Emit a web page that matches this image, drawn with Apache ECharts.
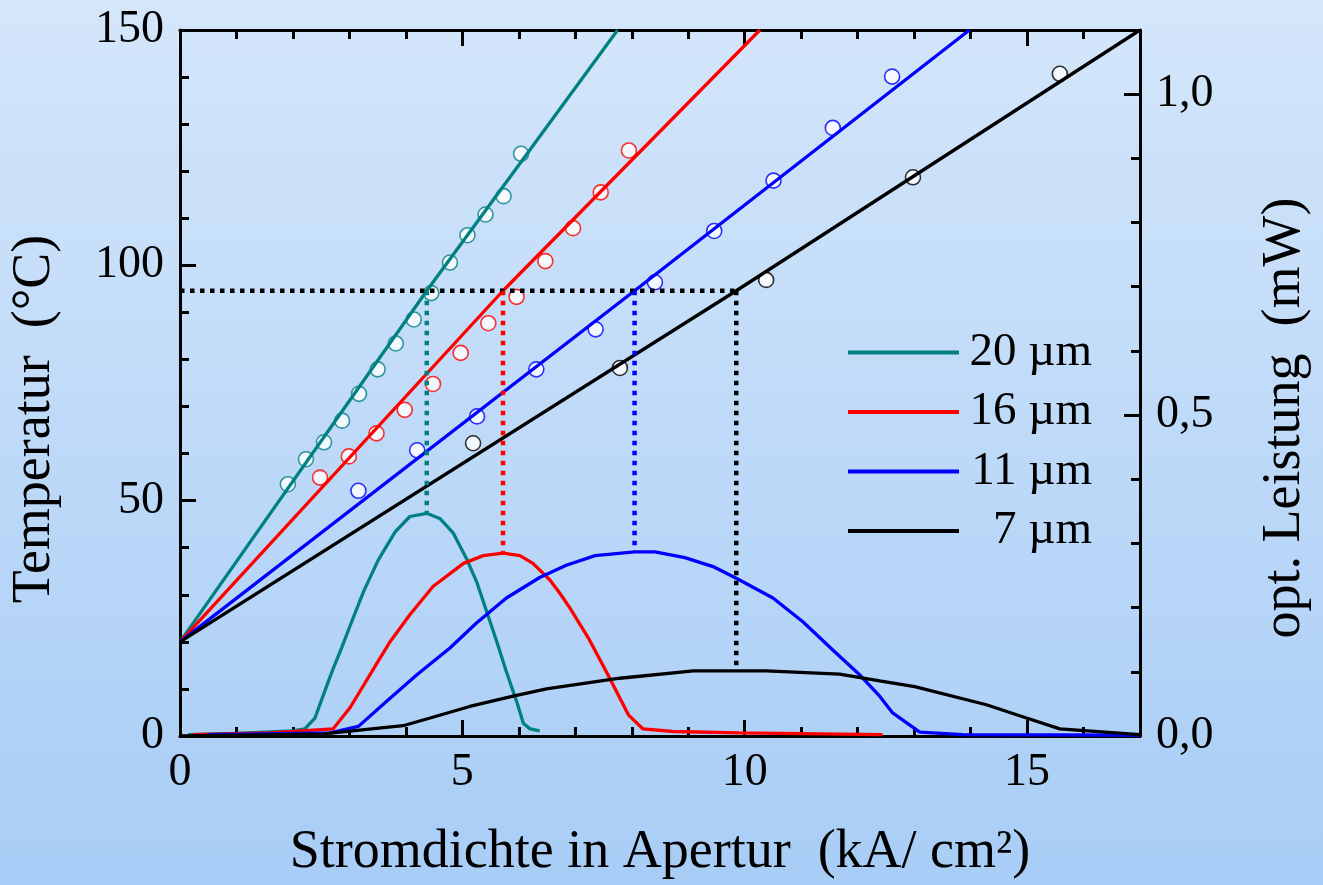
<!DOCTYPE html>
<html>
<head>
<meta charset="utf-8">
<script src="https://cdn.jsdelivr.net/npm/echarts@6/dist/echarts.min.js"></script>
<style>
html,body{margin:0;padding:0;}
#c{width:1323px;height:885px;}
</style>
</head>
<body>
<div id="c"></div>
<script>
// ---------- data ----------
const names = ['20 µm', '16 µm', '11 µm', '7 µm'];
const colors = ['#008080', '#ff0000', '#0000ff', '#000000'];

// fitted temperature lines (x: kA/cm², y: °C)
const fit20 = [[0,20],[4.37,94.6],[7.75,150]];
const fit16 = [[0,20],[5.72,94.6],[10.27,150]];
const fit11 = [[0,20],[8.05,94.6],[13.98,150]];
const fit7  = [[0,20],[9.85,94.6],[17,150]];

// measured temperatures
const temp20 = [[1.91,53.5],[2.23,58.8],[2.55,62.4],[2.87,67.0],[3.17,72.7],[3.50,77.9],[3.82,83.4],[4.14,88.5],[4.45,94.1],[4.78,100.6],[5.09,106.4],[5.41,110.8],[5.73,114.7],[6.04,123.7]];
const temp16 = [[2.48,54.9],[2.99,59.4],[3.48,64.3],[3.98,69.3],[4.48,74.8],[4.97,81.4],[5.46,87.7],[5.96,93.3],[6.47,100.9],[6.96,107.9],[7.45,115.5],[7.95,124.4]];
const temp11 = [[3.16,52.1],[4.20,60.7],[5.26,67.9],[6.31,77.9],[7.36,86.4],[8.41,96.4],[9.46,107.3],[10.51,118.0],[11.56,129.2],[12.61,140.1]];
const temp7  = [[5.19,62.2],[7.79,78.2],[10.38,96.9],[12.98,118.7],[15.58,140.7]];

// optical power (mW)
const pow20 = [[0.15,0.002],[1.0,0.004],[2.0,0.008],[2.21,0.011],[2.39,0.028],[2.54,0.064],[2.69,0.10],[2.86,0.137],[3.04,0.178],[3.25,0.225],[3.51,0.274],[3.81,0.318],[4.07,0.342],[4.37,0.347],[4.60,0.339],[4.84,0.316],[5.07,0.277],[5.25,0.241],[5.43,0.194],[5.61,0.147],[5.78,0.10],[5.96,0.054],[6.08,0.020],[6.20,0.011],[6.37,0.008]];
const pow16 = [[0.23,0.002],[1.59,0.005],[2.71,0.011],[3.01,0.044],[3.36,0.095],[3.72,0.147],[4.07,0.189],[4.48,0.233],[5.02,0.269],[5.37,0.281],[5.72,0.285],[6.02,0.281],[6.25,0.269],[6.55,0.243],[6.73,0.222],[6.90,0.200],[7.23,0.153],[7.58,0.095],[7.94,0.033],[8.20,0.011],[8.73,0.007],[9.91,0.005],[12.44,0.002]];
const pow11 = [[0.5,0.002],[2.66,0.005],[3.16,0.015],[3.66,0.054],[4.19,0.095],[4.78,0.137],[5.25,0.176],[5.78,0.215],[6.37,0.247],[6.84,0.266],[7.35,0.281],[8.05,0.287],[8.41,0.287],[8.94,0.278],[9.44,0.264],[9.91,0.243],[10.50,0.215],[11.03,0.178],[11.56,0.134],[12.04,0.095],[12.39,0.062],[12.62,0.036],[13.10,0.006],[13.86,0.002],[17,0.0015]];
const pow7  = [[0,0.0],[2.5,0.003],[3.95,0.016],[4.43,0.028],[5.13,0.046],[5.90,0.062],[6.49,0.0735],[7.79,0.09],[9.09,0.1016],[10.38,0.1016],[11.68,0.0964],[12.39,0.086],[13.01,0.077],[14.28,0.0487],[14.99,0.028],[15.58,0.011],[17,0.002]];

// reference temperature and operating points
const refTemp = 94.6;
const refCurrent = [4.37, 5.72, 8.05, 9.85];
const refPeak = [0.349, 0.287, 0.290, 0.107];

// axis ranges / ticks
const xMin = 0, xMax = 17, xMajor = 5, xMinor = 1;
const tMin = 0, tMax = 150, tMajor = 50;
const pMin = 0, pMax = 1.1, pMajor = 0.5, pMinor = 0.1;

// ---------- chart ----------
const FONT = '"Liberation Serif", "Times New Roman", serif';
const chart = echarts.init(document.getElementById('c'));
const fits = [fit20, fit16, fit11, fit7];
const temps = [temp20, temp16, temp11, temp7];
const pows = [pow20, pow16, pow11, pow7];
const LW = 3.3;

const series = [];
for (let i = 0; i < 4; i++) {
  series.push({
    name: names[i] + ' Messung', type: 'scatter', data: temps[i], z: 1,
    xAxisIndex: 0, yAxisIndex: 0,
    symbol: 'circle', symbolSize: 15,
    itemStyle: { color: '#ffffff', borderColor: colors[i], borderWidth: 1.6 }
  });
}
for (let i = 0; i < 4; i++) {
  series.push({
    name: names[i], type: 'line', data: fits[i], z: 3,
    xAxisIndex: 0, yAxisIndex: 0, showSymbol: false, symbol: 'none',
    color: colors[i], lineStyle: { color: colors[i], width: LW }
  });
  series.push({
    name: names[i] + ' Leistung', type: 'line', data: pows[i], z: 3,
    xAxisIndex: 0, yAxisIndex: 1, showSymbol: false, symbol: 'none',
    color: colors[i], lineStyle: { color: colors[i], width: LW }
  });
}
// dotted guide lines
series.push({
  name: 'ref', type: 'line', z: 4, xAxisIndex: 0, yAxisIndex: 0,
  data: [[xMin, refTemp], [refCurrent[3], refTemp]], showSymbol: false, symbol: 'none',
  lineStyle: { color: '#000', width: 4.5, type: [4.5, 5.5], cap: 'butt' }
});
for (let i = 0; i < 4; i++) {
  series.push({
    name: 'ref' + i, type: 'line', z: 4, xAxisIndex: 0, yAxisIndex: 1,
    data: [[refCurrent[i], refTemp / tMax * pMax], [refCurrent[i], refPeak[i]]],
    showSymbol: false, symbol: 'none',
    lineStyle: { color: colors[i], width: 4.5, type: [4.5, 5.5], cap: 'butt' }
  });
}

const lineStyle = { show: true, onZero: false, lineStyle: { color: '#000', width: 3 } };
const noLine = { show: false, onZero: false };
const labelStyle = { color: '#000', fontFamily: FONT, fontSize: 46 };
const nameStyle = { color: '#000', fontFamily: FONT, fontSize: 54 };

chart.setOption({
  animation: false,
  backgroundColor: {
    type: 'linear', x: 0, y: 0, x2: 0, y2: 1,
    colorStops: [{ offset: 0, color: '#d4e6fa' }, { offset: 1, color: '#a8cdf6' }]
  },
  grid: { left: 180, right: 183, top: 30, bottom: 147, containLabel: false },
  legend: {
    data: names, orient: 'vertical', left: 848, top: 329, padding: 0,
    icon: 'rect', itemWidth: 111, itemHeight: 4, itemGap: 12.5,
    selectedMode: false,
    formatter: n => '{a|' + n + '}',
    textStyle: {
      rich: { a: { fontFamily: FONT, fontSize: 47, color: '#000', width: 128, align: 'right', lineHeight: 49 } }
    }
  },
  xAxis: [
    { type: 'value', position: 'bottom', min: xMin, max: xMax, interval: xMajor,
      axisLine: lineStyle, splitLine: { show: false },
      axisTick: { show: true, inside: true, length: 16, lineStyle: { color: '#000', width: 3 } },
      axisLabel: Object.assign({ margin: 14, showMaxLabel: false }, labelStyle),
      name: 'Stromdichte in Apertur  (kA/ cm²)', nameLocation: 'middle', nameGap: 90,
      nameTextStyle: nameStyle },
    { type: 'value', position: 'bottom', min: xMin, max: xMax, interval: xMinor,
      axisLine: noLine, splitLine: { show: false }, axisLabel: { show: false },
      axisTick: { show: true, inside: true, length: 9, lineStyle: { color: '#000', width: 3 } } },
    { type: 'value', position: 'top', min: xMin, max: xMax, interval: xMajor,
      axisLine: lineStyle, splitLine: { show: false }, axisLabel: { show: false },
      axisTick: { show: true, inside: true, length: 16, lineStyle: { color: '#000', width: 3 } } },
    { type: 'value', position: 'top', min: xMin, max: xMax, interval: xMinor,
      axisLine: noLine, splitLine: { show: false }, axisLabel: { show: false },
      axisTick: { show: true, inside: true, length: 9, lineStyle: { color: '#000', width: 3 } } }
  ],
  yAxis: [
    { type: 'value', position: 'left', min: tMin, max: tMax, interval: tMajor,
      axisLine: lineStyle, splitLine: { show: false },
      axisTick: { show: true, inside: true, length: 16, lineStyle: { color: '#000', width: 3 } },
      minorTick: { show: true, splitNumber: 5, length: 9, lineStyle: { color: '#000', width: 3 } },
      axisLabel: Object.assign({ margin: 16 }, labelStyle),
      name: 'Temperatur  (°C)', nameLocation: 'middle', nameGap: 118, nameRotate: 90,
      nameTextStyle: Object.assign({ padding: [0, 72, 0, 0] }, nameStyle) },
    { type: 'value', position: 'right', min: pMin, max: pMax, interval: pMajor,
      axisLine: lineStyle, splitLine: { show: false },
      axisTick: { show: true, inside: true, length: 16, lineStyle: { color: '#000', width: 3 } },
      axisLabel: Object.assign({ margin: 16, showMaxLabel: false,
        formatter: v => v.toFixed(1).replace('.', ',') }, labelStyle),
      name: 'opt. Leistung  (mW)', nameLocation: 'middle', nameGap: 118, nameRotate: 90,
      nameTextStyle: Object.assign({ padding: [0, 70, 0, 0] }, nameStyle) },
    { type: 'value', position: 'right', min: pMin, max: pMax, interval: pMinor,
      axisLine: noLine, splitLine: { show: false }, axisLabel: { show: false },
      axisTick: { show: true, inside: true, length: 9, lineStyle: { color: '#000', width: 3 } } }
  ],
  series: series
});
</script>
</body>
</html>
